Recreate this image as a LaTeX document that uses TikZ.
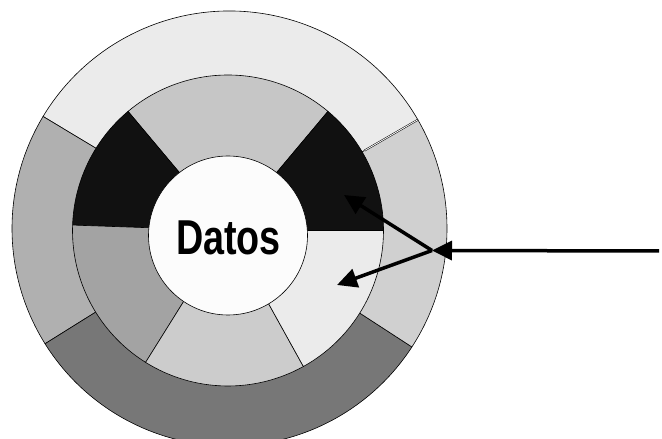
\documentclass[tikz,border=0pt]{standalone}
\usepackage{fontspec}
\setmainfont{Liberation Sans}
\newfontfamily\narrowfont{Liberation Sans}[FakeStretch=0.77]
\usetikzlibrary{arrows.meta,calc}
\definecolor{otop}{HTML}{EBEBEB}
\definecolor{oright}{HTML}{D0D0D0}
\definecolor{oleft}{HTML}{B0B0B0}
\definecolor{obottom}{HTML}{777777}
\definecolor{mtop}{HTML}{C6C6C6}
\definecolor{mdark}{HTML}{111111}
\definecolor{mleft}{HTML}{A3A3A3}
\definecolor{mbottom}{HTML}{CCCCCC}
\definecolor{mright}{HTML}{EBEBEB}
\definecolor{corec}{HTML}{FCFCFC}
\begin{document}
\begin{tikzpicture}[x=1pt,y=1pt,
  ring/.style={draw=black, line width=0.6pt},
  arr/.style={line width=3.5pt, -{Triangle[length=20pt,width=19pt]}}]
\useasboundingbox (0,0) rectangle (662,439);
\clip (0,0) rectangle (662,439);
\coordinate (oc) at (229.5,210.5);
\coordinate (mc) at (228,208.5);
\coordinate (ic) at (228,203.5);
% outer ring
\filldraw[ring, fill=otop] (oc) -- ++(30:217.5pt) arc[start angle=30, end angle=149, radius=217.5pt] -- cycle;
\filldraw[ring, fill=oleft] (oc) -- ++(149:217.5pt) arc[start angle=149, end angle=212, radius=217.5pt] -- cycle;
\filldraw[ring, fill=obottom] (oc) -- ++(212:217.5pt) arc[start angle=212, end angle=327, radius=217.5pt] -- cycle;
\filldraw[ring, fill=oright] (oc) -- ++(-33:217.5pt) arc[start angle=-33, end angle=30, radius=217.5pt] -- cycle;
\draw[line width=0.5pt, double=white, double distance=0.8pt] ($(oc)+(30:156pt)$) -- ($(oc)+(30:217pt)$);
% middle ring
\filldraw[ring, fill=mtop] (mc) -- ++(50:155.5pt) arc[start angle=50, end angle=130, radius=155.5pt] -- cycle;
\filldraw[ring, fill=mdark] (mc) -- ++(130:155.5pt) arc[start angle=130, end angle=178, radius=155.5pt] -- cycle;
\filldraw[ring, fill=mleft] (mc) -- ++(178:155.5pt) arc[start angle=178, end angle=238, radius=155.5pt] -- cycle;
\filldraw[ring, fill=mbottom] (mc) -- ++(238:155.5pt) arc[start angle=238, end angle=299, radius=155.5pt] -- cycle;
\filldraw[ring, fill=mright] (mc) -- ++(299:155.5pt) arc[start angle=299, end angle=360, radius=155.5pt] -- cycle;
\filldraw[ring, fill=mdark] (mc) -- ++(0:155.5pt) arc[start angle=0, end angle=50, radius=155.5pt] -- cycle;
% core
\node[circle, ring, fill=corec, minimum size=159pt, inner sep=0pt] (core) at (ic) {};
\node[inner sep=0pt, font=\narrowfont\bfseries\fontsize{49}{55}\selectfont] (datos) at (228.5,201.5) {Datos};
% arrows
\coordinate (src) at (659,188);
\coordinate (hub) at (432,188.5);
\coordinate (t1) at (344,244);
\coordinate (t2) at (337,154);
\draw[arr] (src) -- (hub);
\draw[arr] (hub) -- (t1);
\draw[arr] (hub) -- (t2);
\end{tikzpicture}
\end{document}
